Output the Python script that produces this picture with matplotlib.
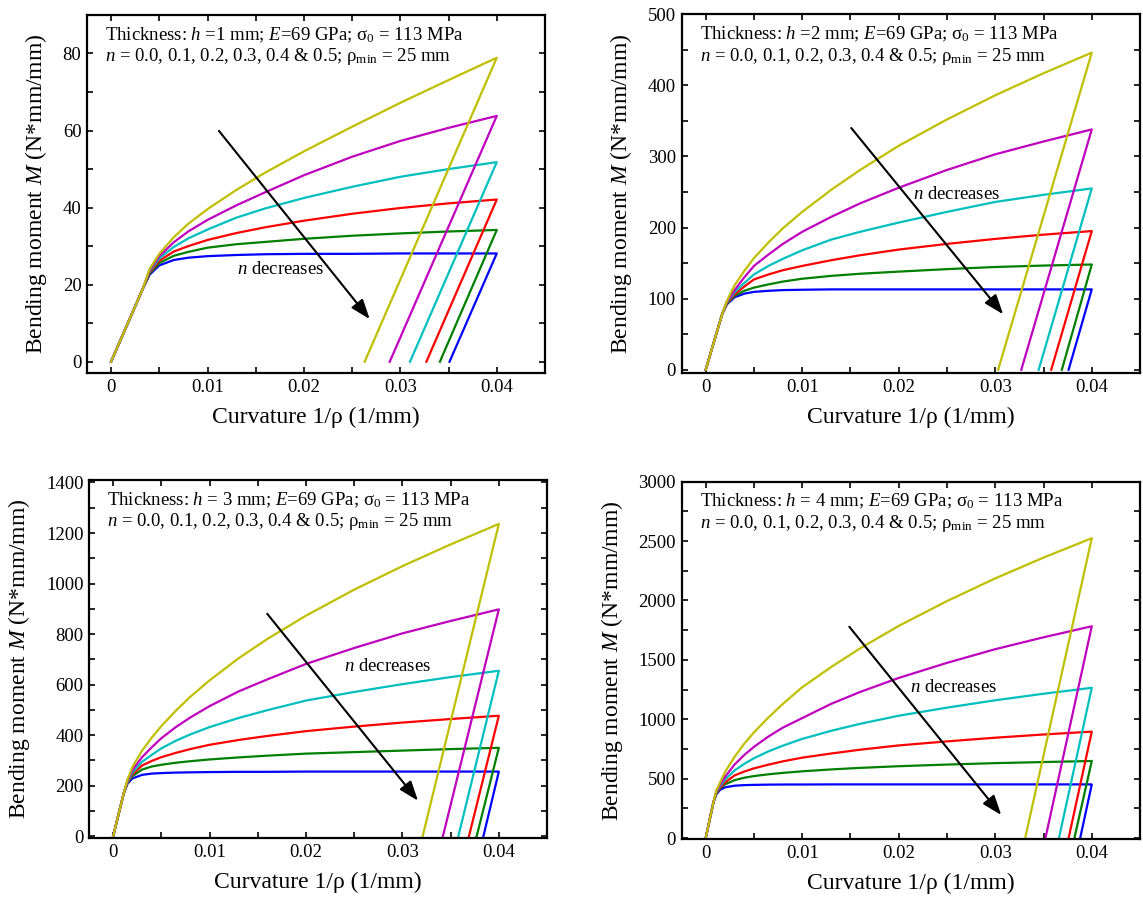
import numpy as np
import matplotlib.pyplot as plt

plt.rcParams['font.family'] = ['Liberation Serif', 'DejaVu Serif']
plt.rcParams['mathtext.fontset'] = 'custom'
plt.rcParams['mathtext.rm'] = 'Liberation Serif'
plt.rcParams['mathtext.it'] = 'Liberation Serif:italic'

# hardening exponents n = 0.0 ... 0.5 and their colours
n_values = [0.0, 0.1, 0.2, 0.3, 0.4, 0.5]
line_colors = ['b', 'g', 'r', 'c', 'm', 'y']

# ---- h = 1 mm ----
k_h1 = [0, 0.0033, 0.004, 0.005, 0.0065, 0.008, 0.01, 0.013, 0.016, 0.02, 0.025, 0.03, 0.035, 0.04]
m_h1 = [
    [0, 19.0, 22.6, 25.0, 26.4, 27.0, 27.4, 27.7, 27.9, 28.0, 28.0, 28.1, 28.1, 28.1],
    [0, 19.0, 22.9, 25.6, 27.5, 28.5, 29.6, 30.5, 31.1, 31.9, 32.7, 33.3, 33.8, 34.2],
    [0, 19.0, 23.2, 26.2, 28.6, 30.0, 31.6, 33.4, 34.9, 36.6, 38.4, 39.9, 41.1, 42.1],
    [0, 19.0, 23.5, 26.8, 29.8, 32.0, 34.3, 37.4, 39.8, 42.5, 45.4, 48.0, 50.0, 51.8],
    [0, 19.0, 23.8, 27.4, 31.0, 33.8, 36.8, 40.6, 44.0, 48.4, 53.2, 57.3, 60.7, 63.8],
    [0, 19.0, 24.1, 28.0, 32.3, 35.8, 39.6, 44.6, 49.1, 54.6, 61.0, 67.2, 73.1, 78.9],
]
k_res_h1 = [0.0351, 0.0341, 0.0327, 0.0310, 0.0289, 0.0263]

# ---- h = 2 mm ----
k_h2 = [0, 0.0017, 0.0022, 0.003, 0.004, 0.005, 0.0065, 0.008, 0.01, 0.013, 0.016, 0.02, 0.025, 0.03, 0.035, 0.04]
m_h2 = [
    [0, 78, 92, 102, 107, 109.5, 111, 112, 112.5, 113, 113, 113, 113, 113, 113, 113],
    [0, 78, 93, 104, 111, 115.5, 120, 124, 128, 132, 135, 138, 141.5, 144.5, 146.5, 148],
    [0, 78, 94, 106, 117, 127, 134, 140, 146, 154, 161, 169, 177, 184, 190, 195],
    [0, 78, 95, 109, 122, 134, 146, 156, 168, 183, 194, 207, 222, 236, 246, 255],
    [0, 78, 96, 112, 130, 146, 162, 177, 194, 215, 234, 256, 281, 303, 321, 338],
    [0, 78, 97, 119, 139, 157, 179, 199, 222, 253, 281, 315, 352, 386, 417, 446],
]
k_res_h2 = [0.0376, 0.0369, 0.0358, 0.0345, 0.0327, 0.0303]

# ---- h = 3 mm ----
k_h3 = [0, 0.0011, 0.0015, 0.002, 0.003, 0.004, 0.005, 0.0065, 0.008, 0.01, 0.013, 0.016, 0.02, 0.025, 0.03, 0.035, 0.04]
m_h3 = [
    [0, 170, 209, 229, 243, 248, 250, 252, 253, 254, 255, 255, 256, 256, 256, 256, 256],
    [0, 170, 212, 238, 264, 276, 283, 291, 297, 304, 312, 319, 327, 333, 339, 345, 350],
    [0, 170, 215, 245, 280, 298, 313, 330, 345, 362, 381, 397, 416, 434, 450, 464, 477],
    [0, 170, 218, 252, 295, 322, 348, 378, 403, 432, 468, 499, 537, 571, 602, 630, 655],
    [0, 170, 222, 262, 313, 352, 388, 432, 470, 515, 573, 621, 682, 745, 803, 852, 898],
    [0, 170, 226, 274, 339, 390, 436, 497, 552, 617, 704, 781, 873, 976, 1069, 1155, 1236],
]
k_res_h3 = [0.0384, 0.0377, 0.0369, 0.0358, 0.0342, 0.0321]

# ---- h = 4 mm ----
k_h4 = [0, 0.0008, 0.0011, 0.0015, 0.002, 0.003, 0.004, 0.005, 0.0065, 0.008, 0.01, 0.013, 0.016, 0.02, 0.025, 0.03, 0.035, 0.04]
m_h4 = [
    [0, 301, 368, 407, 427, 441, 446, 448, 450, 451, 451, 452, 452, 452, 452, 452, 452, 452],
    [0, 301, 375, 418, 452, 488, 508, 522, 537, 549, 562, 578, 591, 605, 619, 631, 640, 649],
    [0, 301, 380, 425, 468, 528, 560, 587, 618, 646, 677, 712, 744, 780, 814, 845, 872, 896],
    [0, 301, 385, 438, 492, 570, 625, 672, 730, 778, 835, 903, 962, 1030, 1098, 1160, 1215, 1265],
    [0, 301, 392, 452, 515, 620, 700, 768, 855, 930, 1010, 1130, 1230, 1348, 1475, 1590, 1690, 1783],
    [0, 301, 400, 470, 555, 685, 795, 890, 1015, 1130, 1270, 1440, 1597, 1786, 1995, 2186, 2361, 2524],
]
k_res_h4 = [0.0388, 0.0382, 0.0376, 0.0366, 0.0352, 0.0331]

thickness_labels = ['=1 mm', '=2 mm', '= 3 mm', '= 4 mm']
x_ticks = [0, 0.005, 0.01, 0.015, 0.02, 0.025, 0.03, 0.035, 0.04]
x_tick_labels = ['0', '', '0.01', '', '0.02', '', '0.03', '', '0.04']

# per panel: y tick step, y limits, arrow (start, end), text position
panels = [
    dict(k=k_h1, m=m_h1, kr=k_res_h1, ystep=10, ytop=80, ylim=(-3, 90),
         arrow=((0.0110, 60.5), (0.0270, 10.5)), ntext=(0.0176, 24), pos=[0.0761, 0.5857, 0.4007, 0.3977]),
    dict(k=k_h2, m=m_h2, kr=k_res_h2, ystep=50, ytop=500, ylim=(-5, 500),
         arrow=((0.0149, 343), (0.0310, 75)), ntext=(0.0260, 247), pos=[0.5963, 0.5857, 0.4011, 0.3985]),
    dict(k=k_h3, m=m_h3, kr=k_res_h3, ystep=100, ytop=1400, ylim=(-8, 1410),
         arrow=((0.0158, 889), (0.0318, 132)), ntext=(0.0285, 671), pos=[0.0779, 0.0696, 0.4007, 0.3977]),
    dict(k=k_h4, m=m_h4, kr=k_res_h4, ystep=250, ytop=3000, ylim=(-10, 3000),
         arrow=((0.0147, 1797), (0.0308, 176)), ntext=(0.0257, 1265), pos=[0.5963, 0.0685, 0.4011, 0.3969]),
]

fig = plt.figure(figsize=(11.43, 9.01), dpi=100)

for p, thick in zip(panels, thickness_labels):
    ax = fig.add_axes(p['pos'])
    for m, kr, c in zip(p['m'], p['kr'], line_colors):
        # loading path, then elastic unloading down to zero moment
        ax.plot(list(p['k']) + [kr], list(m) + [0], color=c, lw=1.6)

    ax.set_xlim(-0.0025, 0.045)
    ax.set_ylim(*p['ylim'])
    ax.set_xticks(x_ticks)
    ax.set_xticklabels(x_tick_labels)
    yt = np.arange(0, p['ytop'] + 1, p['ystep'])
    ax.set_yticks(yt)
    ax.set_yticklabels([f"{v:g}" if v % (2 * p['ystep']) == 0 else '' for v in yt])
    ax.tick_params(direction='in', length=4, width=1.2, top=True, right=True,
                   labelsize=13.5, pad=4)
    for s in ax.spines.values():
        s.set_linewidth(1.6)

    ax.set_xlabel('Curvature 1/ρ (1/mm)', fontsize=17, labelpad=8)
    ax.set_ylabel('Bending moment $M$ (N*mm/mm)', fontsize=17, labelpad=10)

    ax.text(0.04, 0.944, 'Thickness: $h$ ' + thick + '; $E$=69 GPa; σ$_0$ = 113 MPa',
            transform=ax.transAxes, fontsize=13.5, va='center', ha='left')
    ax.text(0.04, 0.883, '$n$ = 0.0, 0.1, 0.2, 0.3, 0.4 & 0.5; ρ$_{\\mathrm{min}}$ = 25 mm',
            transform=ax.transAxes, fontsize=13.5, va='center', ha='left')

    (x0, y0), (x1, y1) = p['arrow']
    ax.annotate('', xy=(x1, y1), xytext=(x0, y0),
                arrowprops=dict(arrowstyle='-|>,head_length=0.6,head_width=0.22',
                                color='k', lw=1.5, mutation_scale=20))
    ax.text(p['ntext'][0], p['ntext'][1], '$n$ decreases', fontsize=13.5,
            ha='center', va='center')

fig.savefig('out.png', dpi=100)
